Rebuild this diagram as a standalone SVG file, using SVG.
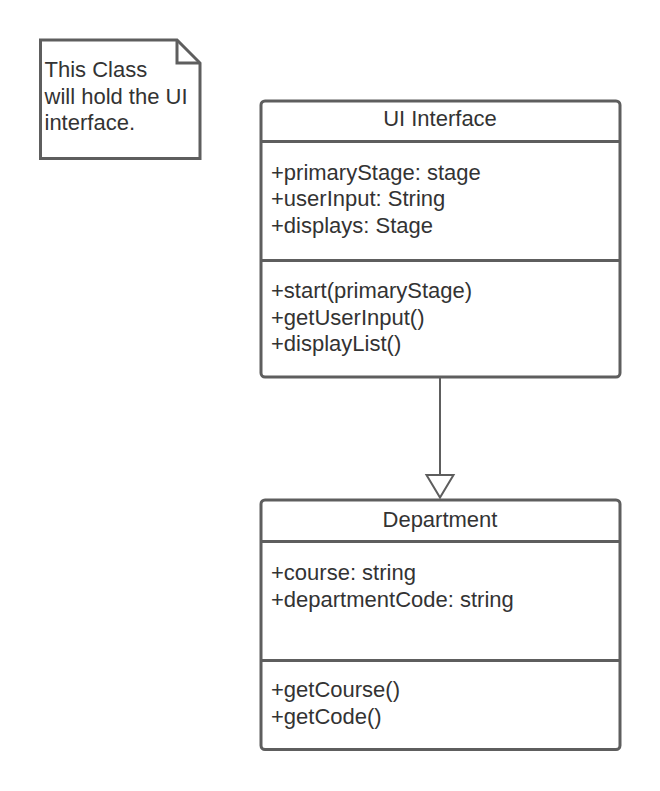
<svg xmlns="http://www.w3.org/2000/svg" width="660" height="791" viewBox="0 0 660 791">
<style>
.box{fill:#ffffff;stroke:#5e5e5e;stroke-width:3}
.div{stroke:#5e5e5e;stroke-width:3}
.t{font-family:"Liberation Sans",Arial,sans-serif;font-size:22px;fill:#333333}
.c{text-anchor:middle}
.conn{stroke:#5e5e5e;stroke-width:2;fill:none}
.head{stroke:#5e5e5e;stroke-width:2;fill:#ffffff}
</style>
<rect width="660" height="791" fill="#ffffff"/>
<g id="note">
<path class="box" d="M40.5 40 H177 L200 63 V158.5 H40.5 Z"/>
<path class="conn" style="stroke-width:3" d="M177 40 V63 H200"/>
<text class="t" x="44.5" y="77">This Class</text>
<text class="t" x="44.5" y="103.5">will hold the UI</text>
<text class="t" x="44.5" y="130">interface.</text>
</g>
<g id="ui-interface">
<rect class="box" x="261" y="101" width="359" height="276" rx="4"/>
<line class="div" x1="261" y1="141.5" x2="620" y2="141.5"/>
<line class="div" x1="261" y1="260.5" x2="620" y2="260.5"/>
<text class="t c" x="440" y="126">UI Interface</text>
<text class="t" x="271" y="179.5">+primaryStage: stage</text>
<text class="t" x="271" y="206">+userInput: String</text>
<text class="t" x="271" y="232.5">+displays: Stage</text>
<text class="t" x="271" y="298">+start(primaryStage)</text>
<text class="t" x="271" y="324.5">+getUserInput()</text>
<text class="t" x="271" y="351">+displayList()</text>
</g>
<g id="department">
<rect class="box" x="261" y="500" width="359" height="249.5" rx="4"/>
<line class="div" x1="261" y1="541.5" x2="620" y2="541.5"/>
<line class="div" x1="261" y1="660.5" x2="620" y2="660.5"/>
<text class="t c" x="440" y="527">Department</text>
<text class="t" x="271" y="580">+course: string</text>
<text class="t" x="271" y="606.5">+departmentCode: string</text>
<text class="t" x="271" y="697">+getCourse()</text>
<text class="t" x="271" y="723.5">+getCode()</text>
</g>
<g id="connectors">
<line class="conn" x1="440" y1="378" x2="440" y2="475"/>
<path class="head" d="M426.5 475 H453.5 L440 497.5 Z"/>
</g>
</svg>
